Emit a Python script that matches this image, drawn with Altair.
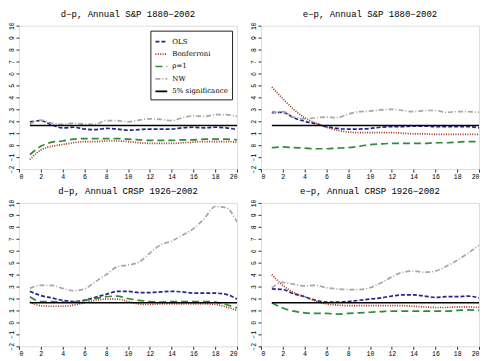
import altair as alt
import pandas as pd

horizons = list(range(1, 21))
series_names = ["OLS", "Bonferroni", "ρ=1", "NW", "5% significance"]
series_colors = ["#24248c", "#a3311c", "#2f8a3a", "#a6a6a6", "#000000"]
series_dashes = [[4, 2], [1, 1.4], [7, 4], [5, 2, 1, 2], [1, 0]]
series_widths = [1.7, 1.7, 1.8, 1.6, 2.2]
signif_level = 1.645

titles = ["d−p, Annual S&P 1880−2002", "e−p, Annual S&P 1880−2002",
          "d−p, Annual CRSP 1926−2002", "e−p, Annual CRSP 1926−2002"]

# panel 1: d-p S&P
p1_ols = [1.95, 2.05, 1.7, 1.45, 1.5, 1.35, 1.3, 1.4, 1.35, 1.25, 1.3, 1.35, 1.35, 1.35, 1.45, 1.5, 1.45, 1.5, 1.45, 1.3]
p1_bon = [-1.2, -0.4, -0.1, 0.05, 0.2, 0.3, 0.3, 0.35, 0.35, 0.3, 0.2, 0.15, 0.15, 0.15, 0.2, 0.25, 0.3, 0.3, 0.3, 0.25]
p1_rho = [-0.8, -0.1, 0.25, 0.35, 0.5, 0.55, 0.55, 0.55, 0.55, 0.5, 0.45, 0.4, 0.4, 0.4, 0.45, 0.45, 0.5, 0.5, 0.5, 0.45]
p1_nw = [1.75, 2.1, 1.85, 1.75, 1.85, 1.75, 1.75, 2.05, 2.05, 1.95, 2.1, 2.2, 2.15, 2.05, 2.3, 2.45, 2.4, 2.55, 2.55, 2.4]

# panel 2: e-p S&P
p2_ols = [2.75, 2.75, 2.3, 2.0, 1.8, 1.55, 1.4, 1.35, 1.35, 1.4, 1.5, 1.55, 1.55, 1.6, 1.6, 1.55, 1.55, 1.55, 1.55, 1.45]
p2_bon = [4.85, 3.9, 3.0, 2.3, 1.85, 1.5, 1.25, 1.1, 1.05, 1.05, 1.05, 1.05, 1.0, 0.95, 0.95, 0.9, 0.9, 0.9, 0.9, 0.9]
p2_rho = [-0.2, -0.15, -0.2, -0.25, -0.3, -0.3, -0.25, -0.2, -0.1, 0.05, 0.1, 0.15, 0.15, 0.15, 0.15, 0.2, 0.2, 0.25, 0.3, 0.3]
p2_nw = [2.65, 2.8, 2.35, 2.2, 2.3, 2.35, 2.3, 2.6, 2.8, 2.85, 2.95, 3.0, 2.9, 2.8, 2.9, 2.9, 2.75, 2.8, 2.8, 2.75]

# panel 3: d-p CRSP
p3_ols = [2.6, 2.25, 2.05, 1.85, 1.75, 1.85, 2.1, 2.35, 2.6, 2.6, 2.5, 2.5, 2.55, 2.6, 2.55, 2.45, 2.45, 2.45, 2.35, 1.95]
p3_bon = [1.7, 1.4, 1.35, 1.35, 1.45, 1.65, 1.85, 1.95, 1.95, 1.75, 1.55, 1.5, 1.55, 1.55, 1.55, 1.55, 1.55, 1.5, 1.3, 1.0]
p3_rho = [2.15, 1.75, 1.75, 1.7, 1.7, 1.85, 2.0, 2.15, 2.2, 2.0, 1.85, 1.75, 1.7, 1.75, 1.75, 1.75, 1.75, 1.7, 1.5, 1.2]
p3_nw = [2.85, 3.1, 3.1, 2.85, 2.65, 2.8, 3.4, 4.0, 4.65, 4.8, 5.05, 5.8, 6.5, 6.8, 7.3, 7.85, 8.7, 9.7, 9.6, 8.4]

# panel 4: e-p CRSP
p4_ols = [2.8, 2.75, 2.4, 2.15, 1.85, 1.7, 1.7, 1.75, 1.85, 1.95, 2.05, 2.2, 2.3, 2.3, 2.2, 2.1, 2.15, 2.15, 2.2, 2.05]
p4_bon = [4.0, 3.1, 2.5, 2.15, 1.8, 1.55, 1.45, 1.4, 1.4, 1.4, 1.4, 1.4, 1.4, 1.35, 1.3, 1.25, 1.25, 1.3, 1.3, 1.25]
p4_rho = [1.65, 1.2, 0.95, 0.8, 0.75, 0.75, 0.7, 0.75, 0.8, 0.85, 0.9, 0.95, 0.95, 0.95, 0.95, 0.95, 0.95, 1.0, 1.05, 1.0]
p4_nw = [2.9, 3.35, 3.2, 3.05, 3.1, 2.9, 2.8, 2.75, 2.75, 2.9, 3.3, 3.8, 4.2, 4.3, 4.2, 4.3, 4.7, 5.2, 5.8, 6.45]

panels = [
    (p1_ols, p1_bon, p1_rho, p1_nw),
    (p2_ols, p2_bon, p2_rho, p2_nw),
    (p3_ols, p3_bon, p3_rho, p3_nw),
    (p4_ols, p4_bon, p4_rho, p4_nw),
]

W, H = 219, 144
MONO = "Liberation Mono"


def make_panel(title, vals, show_legend):
    rows = []
    for name, ys in zip(series_names[:4], vals):
        for i, (h, y) in enumerate(zip(horizons, ys)):
            rows.append({"series": name, "h": h, "y": y, "order": i})
    for i, h in enumerate(horizons):
        rows.append({"series": series_names[4], "h": h, "y": signif_level, "order": i})
    df = pd.DataFrame(rows)

    if show_legend:
        leg = alt.Legend(
            title=None, orient="top-right", offset=5,
            fillColor="white", strokeColor="#222", padding=4,
            labelFont="DejaVu Serif", labelFontSize=7, labelColor="black",
            labelAlign="left",
            symbolType="stroke", symbolSize=140, symbolStrokeWidth=1.8,
            rowPadding=1.5, labelOffset=4,
        )
    else:
        leg = None

    return alt.Chart(df).mark_line(interpolate="monotone", clip=True).encode(
        x=alt.X("h:Q", scale=alt.Scale(domain=[0, 20], nice=False),
                axis=alt.Axis(values=list(range(0, 21, 2)), title=None, grid=False,
                              domain=False, tickSize=3, tickColor="#333",
                              labelFont=MONO, labelFontSize=6.5, labelPadding=1,
                              labelColor="black")),
        y=alt.Y("y:Q", scale=alt.Scale(domain=[-2, 10], nice=False, zero=False),
                axis=alt.Axis(values=list(range(-2, 11)), title=None, grid=False,
                              domain=False, tickSize=3, tickColor="#333",
                              labelAngle=-90, labelFont=MONO, labelFontSize=6.5,
                              labelPadding=1, labelColor="black")),
        color=alt.Color("series:N", scale=alt.Scale(domain=series_names, range=series_colors),
                        legend=leg, sort=series_names),
        strokeDash=alt.StrokeDash("series:N", scale=alt.Scale(domain=series_names, range=series_dashes),
                                  legend=leg, sort=series_names),
        strokeWidth=alt.StrokeWidth("series:N", scale=alt.Scale(domain=series_names, range=series_widths),
                                    legend=None),
        order="order:Q",
    ).properties(
        width=W, height=H,
        title=alt.TitleParams(title, font=MONO, fontSize=9, fontWeight="normal",
                              color="black", offset=3),
    )


charts = [make_panel(t, v, i == 0) for i, (t, v) in enumerate(zip(titles, panels))]


def row(a, b):
    return alt.hconcat(a, b, spacing=12).resolve_legend(
        color="independent", strokeDash="independent"
    ).resolve_scale(
        color="independent", strokeDash="independent", strokeWidth="independent"
    )


chart = alt.vconcat(row(charts[0], charts[1]), row(charts[2], charts[3]), spacing=6).resolve_legend(
    color="independent", strokeDash="independent"
).resolve_scale(
    color="independent", strokeDash="independent", strokeWidth="independent"
).properties(
    padding={"left": 0, "top": 0, "right": 0, "bottom": 0}
).configure_view(
    stroke="#333", strokeWidth=2
).configure(background="white")

chart.save("out.html", embed_options={"renderer": "svg", "actions": False})
